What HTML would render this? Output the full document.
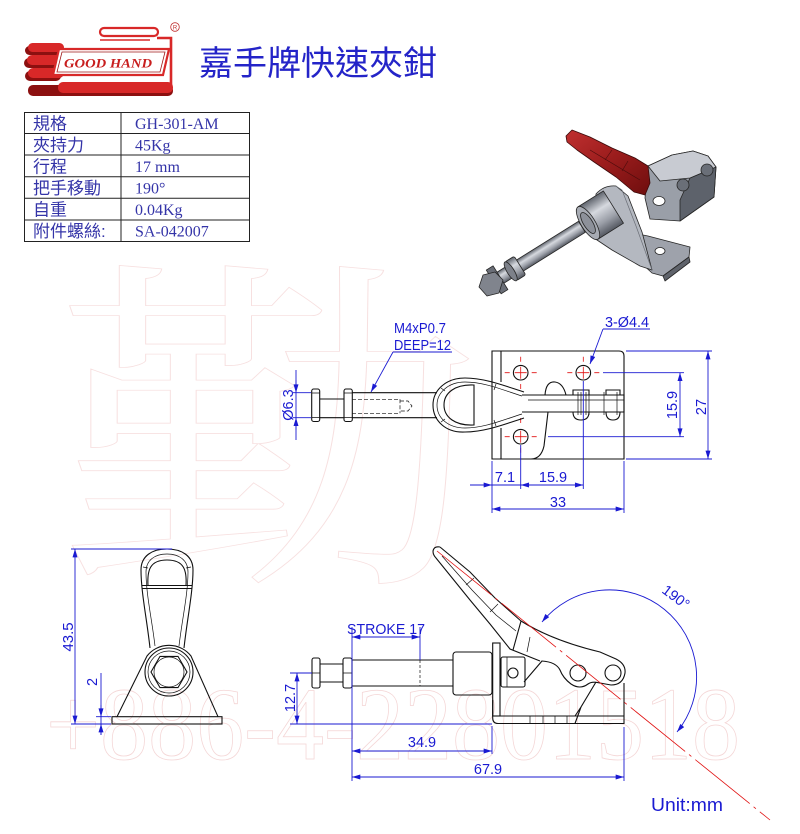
<!DOCTYPE html>
<html><head><meta charset="utf-8">
<style>
html,body{margin:0;padding:0;background:#fff;}
svg{display:block;}
.k{fill:none;stroke:#111;stroke-width:1.1;}
.kt{fill:none;stroke:#111;stroke-width:0.7;}
.b{fill:none;stroke:#1a1ad2;stroke-width:0.9;}
.bt{font-family:"Liberation Sans",sans-serif;font-size:14.5px;fill:#1a1ad2;}
.r{fill:none;stroke:#e01010;stroke-width:0.8;}
.tb{font-family:"Liberation Serif",serif;font-size:16px;fill:#3434a8;}
.tc{font-family:"Liberation Sans","Noto Sans CJK TC",sans-serif;font-size:17px;fill:#3434a8;}
</style></head><body>
<svg width="800" height="834" viewBox="0 0 800 834" xmlns="http://www.w3.org/2000/svg">
<defs>
<marker id="ar" viewBox="0 0 10 6" refX="10" refY="3" markerWidth="9" markerHeight="5" markerUnits="userSpaceOnUse" orient="auto-start-reverse"><path d="M0,0 L10,3 L0,6 z" fill="#1a1ad2"/></marker>
<linearGradient id="cyl" x1="0" y1="0" x2="0" y2="1"><stop offset="0" stop-color="#60656e"/><stop offset="0.35" stop-color="#d6d9df"/><stop offset="0.7" stop-color="#9a9ea7"/><stop offset="1" stop-color="#555962"/></linearGradient>
<linearGradient id="red" x1="0" y1="0" x2="1" y2="1"><stop offset="0" stop-color="#c03030"/><stop offset="0.5" stop-color="#9a1c1c"/><stop offset="1" stop-color="#6e0e0e"/></linearGradient>
</defs>
<rect width="800" height="834" fill="#fff"/>

<!-- watermarks -->
<text transform="translate(55,556) scale(1.27,1.02)" font-family="Noto Serif CJK SC, serif" font-size="340" fill="none" stroke="#f7e0e0" stroke-width="0.8">勤</text>
<text x="46" y="759" font-family="Liberation Serif, serif" font-size="104" textLength="694" lengthAdjust="spacingAndGlyphs" fill="none" stroke="#f4d6d6" stroke-width="0.8">+886-4-22801518</text>

<!-- logo -->
<g>
 <g fill="#8c1010">
  <rect x="25" y="46" width="36" height="9" rx="4.5"/>
  <rect x="24" y="58" width="37" height="10" rx="5"/>
  <rect x="25" y="71" width="36" height="10" rx="5"/>
  <rect x="28" y="85" width="145" height="11" rx="5"/>
 </g>
 <g fill="#d82828">
  <rect x="28" y="43" width="36" height="9" rx="4.5"/>
  <rect x="27" y="55" width="37" height="10" rx="5"/>
  <rect x="28" y="68" width="36" height="10" rx="5"/>
  <rect x="58" y="82" width="115" height="11" rx="5"/>
 </g>
 <rect x="100" y="28" width="58" height="8" rx="4" fill="#fff" stroke="#d82828" stroke-width="2.2"/>
 <path d="M157,38 H171 V86" fill="none" stroke="#d82828" stroke-width="2.6"/>
 <path d="M100,40 H150" fill="none" stroke="#d82828" stroke-width="1.5"/>
 <polygon points="59,49 169,49 163,75 53,75" fill="#fff" stroke="#d82828" stroke-width="2.2"/>
 <polygon points="62,52 165,52 160,72 57,72" fill="none" stroke="#a01818" stroke-width="0.8"/>
 <text x="64" y="67.5" font-family="Liberation Serif, serif" font-style="italic" font-weight="bold" font-size="13" fill="#c81e1e" textLength="88" lengthAdjust="spacingAndGlyphs">GOOD HAND</text>
 <circle cx="175" cy="27" r="4.3" fill="none" stroke="#c03030" stroke-width="0.8"/>
 <text x="175" y="29.3" text-anchor="middle" font-family="Liberation Sans, sans-serif" font-size="6" fill="#c03030">R</text>
</g>
<text x="199" y="75" font-family="Liberation Sans, 'Noto Sans CJK TC', sans-serif" font-size="34" fill="#2424c8">嘉手牌快速夾鉗</text>

<!-- table -->
<g stroke="#222" stroke-width="1" fill="none">
 <rect x="24.5" y="112.5" width="225" height="129"/>
 <line x1="121" y1="112.5" x2="121" y2="241.5"/>
 <line x1="24.5" y1="133.5" x2="249.5" y2="133.5"/>
 <line x1="24.5" y1="155" x2="249.5" y2="155"/>
 <line x1="24.5" y1="176.7" x2="249.5" y2="176.7"/>
 <line x1="24.5" y1="198.3" x2="249.5" y2="198.3"/>
 <line x1="24.5" y1="220" x2="249.5" y2="220"/>
</g>
<text class="tc" x="33" y="129.5">規格</text>
<text class="tc" x="33" y="151">夾持力</text>
<text class="tc" x="33" y="172.5">行程</text>
<text class="tc" x="33" y="194">把手移動</text>
<text class="tc" x="33" y="215.5">自重</text>
<text class="tc" x="33" y="237">附件螺絲:</text>
<text class="tb" x="135" y="129">GH-301-AM</text>
<text class="tb" x="135" y="150.5">45Kg</text>
<text class="tb" x="135" y="172">17 mm</text>
<text class="tb" x="135" y="193.5">190°</text>
<text class="tb" x="135" y="215">0.04Kg</text>
<text class="tb" x="135" y="236.5">SA-042007</text>

<!-- 3D render -->
<g stroke="#262626" stroke-width="0.8" stroke-linejoin="round">
 <!-- housing -->
 <path d="M645,198 L648,166 L672,155 L693,151 L708,156 L716,167 L714,197 L680,221 L650,219 Z" fill="#9a9fa8"/>
 <path d="M690,178 L716,167 L714,197 L680,221 L680,200 Z" fill="#5d626b"/>
 <path d="M648,166 L672,155 L693,151 L708,156 L716,167 L690,178 L660,181 Z" fill="#c8cbd2"/>
 <circle cx="707" cy="170" r="6" fill="#6a6f78"/>
 <circle cx="683" cy="185" r="6" fill="#6a6f78"/>
 <ellipse cx="659" cy="201" rx="6" ry="4.5" fill="#fff"/>
 <!-- flange foot -->
 <path d="M628,232 L648,236 L690,247 L689,257 L663,276 L652,273 L640,262 Z" fill="#9ea2ab"/>
 <path d="M663,276 L689,257 L690,262 L665,281 Z" fill="#5f636b"/>
 <ellipse cx="660" cy="251" rx="5" ry="3.5" fill="#fff"/>
 <!-- flange upright -->
 <path d="M596,194 Q604,185 616,186 L628,196 L642,232 L652,270 L640,266 L612,250 L594,238 Z" fill="#b4b8c0"/>
 <path d="M616,186 L622,190 L636,226 L652,270" fill="none" stroke="#6a6e76" stroke-width="0.7"/>
 <!-- collar -->
 <g transform="translate(588,223) rotate(-32)">
  <rect x="0" y="-19" width="30" height="38" fill="url(#cyl)"/>
  <ellipse cx="0" cy="0" rx="7" ry="19" fill="#a7abb3"/>
  <ellipse cx="0" cy="0" rx="4.5" ry="12" fill="#8d919a"/>
 </g>
 <!-- rod -->
 <g transform="translate(492,283) rotate(-32)">
  <rect x="8" y="-6.5" width="98" height="13" fill="url(#cyl)"/>
  <rect x="22" y="-11" width="11" height="22" rx="2" fill="url(#cyl)"/>
  <ellipse cx="22" cy="0" rx="3.5" ry="11" fill="#7d818a"/>
  <rect x="2" y="-14" width="8" height="28" fill="#6a6e77"/>
 </g>
 <polygon points="479,287 483,275 495,272 503,280 499,293 487,296" fill="#80848d"/>
 <!-- red handle -->
 <path d="M566,136 L572,130 L590,137 L612,148 L635,158 L648,166 L650,183 L645,195 L634,192 L616,177 L594,162 L577,150 L567,142 Z" fill="url(#red)" stroke="#3a0a0a"/>
 <path d="M590,150 L640,180 M605,160 L612,150 M622,171 L628,161" fill="none" stroke="#4a0c0c" stroke-width="0.6"/>
</g>

<!-- TOP VIEW -->
<path class="k" d="M492,351 H619 Q624,351 624,356 V459 H492 Z"/>
<path class="k" d="M501,351 V382 M501,428 V459"/>
<path class="k" d="M548,412 L544,446 Q541,459 531,459"/>
<path class="k" d="M545,395 Q546,381 555,382 Q563,383 566,395"/>
<g fill="#fff" stroke="#111" stroke-width="1.1">
 <circle cx="520.7" cy="372.7" r="7.3"/>
 <circle cx="583.3" cy="372.7" r="7.3"/>
 <circle cx="520.7" cy="436.7" r="7.3"/>
</g>
<g class="r">
 <path d="M514.7,372.7 H526.7 M520.7,366.7 V378.7 M504.7,372.7 H509.7 M531.7,372.7 H536.7 M520.7,356.7 V361.7"/>
 <path d="M577.3,372.7 H589.3 M583.3,366.7 V378.7 M567.3,372.7 H572.3 M594.3,372.7 H599.3 M583.3,356.7 V361.7"/>
 <path d="M514.7,436.7 H526.7 M520.7,430.7 V442.7 M504.7,436.7 H509.7 M531.7,436.7 H536.7 M520.7,447.7 V452.7"/>
 <path d="M520.7,384 V392 M520.7,418 V426" stroke-dasharray="5,3"/>
</g>
<!-- handle loop -->
<path class="k" d="M524,392 C505,386 485,378 465,378 C445,378 433,391 433,405 C433,420 445,433 465,432 C485,432 505,424 524,418"/>
<path class="kt" d="M522,396 C503,390 484,382 465,382 C448,382 437,393 437,405 C437,418 448,428 465,428 C484,428 503,420 522,414"/>
<path class="k" d="M474,385 C455,384 444,393 444,405 C444,417 455,426 474,425 Z"/>
<path class="kt" d="M441,388 L445,391 M441,422 L445,419 M496,384 L494,390 M496,426 L494,420"/>
<!-- arm -->
<path class="k" d="M522,395 H624 V412 H522"/>
<path class="kt" d="M528,400 H624 M578,392 V415 M581,392 V415 M586,392 V415 M589,392 V415 M604,392 V415 M617,392 V415"/>
<path class="k" d="M573,395 V390 H589 V395 M606,395 V390 H620 V395 M573,412 Q573,420 581,420 Q589,420 589,412 M606,412 Q606,420 613,420 Q620,420 620,412"/>
<!-- rod top view -->
<path class="k" d="M352,392.7 H437 M352,417.7 H437"/>
<rect class="k" x="311.7" y="389" width="8" height="32.5" rx="2"/>
<rect class="k" x="344" y="389" width="8.3" height="32.5" rx="2"/>
<path class="kt" d="M311.7,393 H319.7 M311.7,417.5 H319.7 M344,393 H352.3 M344,417.5 H352.3"/>
<path class="k" d="M319.7,399 H344 M319.7,417.7 H344"/>
<path class="kt" stroke-dasharray="4,2" d="M352,399.3 H400 M352,413.3 H400 M400,399.3 V413.3 M400,401 H408 L412,406 L408,411 H400"/>

<!-- top view dims -->
<g class="b">
 <line x1="296" y1="370" x2="296" y2="440"/>
 <line x1="296" y1="380" x2="296" y2="392.7" marker-end="url(#ar)"/>
 <line x1="296" y1="430" x2="296" y2="417.7" marker-end="url(#ar)"/>
 <path d="M293,392.7 H311 M293,417.7 H311"/>
 <path d="M393,352 H452"/>
 <line x1="393" y1="352" x2="371" y2="392" marker-end="url(#ar)"/>
 <path d="M603,329 H650"/>
 <line x1="603" y1="329" x2="590" y2="364" marker-end="url(#ar)"/>
 <path d="M626,351 H712 M626,459 H712 M603,372.7 H684 M548,436.7 H684"/>
 <line x1="708" y1="351" x2="708" y2="459" marker-start="url(#ar)" marker-end="url(#ar)"/>
 <line x1="680" y1="372.7" x2="680" y2="436.7" marker-start="url(#ar)" marker-end="url(#ar)"/>
 <path d="M492,461 V513 M520.7,445 V489 M583.3,381 V489 M624,461 V513"/>
 <line x1="470" y1="485" x2="492" y2="485" marker-end="url(#ar)"/>
 <line x1="492" y1="485" x2="520.7" y2="485"/>
 <line x1="520.7" y1="485" x2="583.3" y2="485" marker-start="url(#ar)" marker-end="url(#ar)"/>
 <line x1="492" y1="509" x2="624" y2="509" marker-start="url(#ar)" marker-end="url(#ar)"/>
</g>
<text class="bt" transform="translate(293,405) rotate(-90)" text-anchor="middle">Ø6.3</text>
<text class="bt" x="394" y="333" textLength="52" lengthAdjust="spacingAndGlyphs">M4xP0.7</text>
<text class="bt" x="394" y="350" textLength="57" lengthAdjust="spacingAndGlyphs">DEEP=12</text>
<text class="bt" x="605" y="327" textLength="44" lengthAdjust="spacingAndGlyphs">3-Ø4.4</text>
<text class="bt" transform="translate(677,405) rotate(-90)" text-anchor="middle">15.9</text>
<text class="bt" transform="translate(706,407) rotate(-90)" text-anchor="middle">27</text>
<text class="bt" x="505" y="482" text-anchor="middle">7.1</text>
<text class="bt" x="553" y="482" text-anchor="middle">15.9</text>
<text class="bt" x="558" y="507" text-anchor="middle">33</text>

<!-- BOTTOM LEFT VIEW -->
<rect class="k" x="112" y="716.7" width="110" height="7.3"/>
<path class="k" d="M117,716.7 L147,656 A28,28 0 0 1 191,656 L218,716.7"/>
<circle class="k" cx="169" cy="672" r="24"/>
<circle class="kt" cx="169" cy="672" r="21"/>
<polygon class="k" points="187,672 178,687.6 160,687.6 151,672 160,656.4 178,656.4"/>
<circle class="kt" cx="169" cy="672" r="15"/>
<path class="k" d="M150,648 C147,620 141,592 141,570 C141,556 152,549 167,549 C182,549 193,556 193,570 C193,592 187,620 184,648"/>
<path class="kt" d="M155,646 C152,620 146,594 146,572 C146,560 155,554 167,554 C179,554 188,560 188,572 C188,594 182,620 179,646"/>
<path class="k" d="M148,586 C147,570 150,560 167,560 C184,560 187,570 186,586"/>
<path class="k" d="M142,585.5 H192 M142,588.5 H192"/>
<path class="kt" d="M143,567 L148,568 M191,567 L186,568"/>
<g class="b">
 <path d="M71,549 H172 M71,724 H111 M96,716.7 H111 M96,724 H111"/>
 <line x1="75" y1="549" x2="75" y2="724" marker-start="url(#ar)" marker-end="url(#ar)"/>
 <line x1="101" y1="673" x2="101" y2="735"/>
 <line x1="101" y1="705" x2="101" y2="716.7" marker-end="url(#ar)"/>
 <line x1="101" y1="735" x2="101" y2="724" marker-end="url(#ar)"/>
</g>
<text class="bt" style="font-size:15px" transform="translate(73,637) rotate(-90)" text-anchor="middle">43.5</text>
<text class="bt" transform="translate(97,682) rotate(-90)" text-anchor="middle">2</text>

<!-- SIDE VIEW -->
<rect class="k" x="312" y="658" width="8" height="30" rx="2"/>
<rect class="k" x="343" y="658" width="9" height="30" rx="2"/>
<path class="kt" d="M312,673 H320 M343,673 H352"/>
<path class="k" d="M320,664 H343 M320,682 H343"/>
<path class="k" d="M352,660 H453 M352,686 H453"/>
<path class="kt" stroke-dasharray="3,2" d="M420,660 V686"/>
<rect class="k" x="453" y="652" width="39" height="43" rx="3"/>
<rect class="k" x="492.7" y="643" width="7.3" height="73"/>
<rect class="k" x="501" y="657" width="24" height="30" rx="2"/>
<path class="kt" d="M507,657 V687"/>
<circle class="k" cx="513" cy="673" r="5"/>
<path class="k" d="M492.7,700 V718 Q492.7,723.5 498,723.5 H624 V683"/>
<path class="k" d="M500,716 H624"/>
<path class="kt" d="M530,716 V723.5 M543,716 V723.5 M555,716 V723.5 M567,716 V723.5"/>
<path class="k" d="M575,723.5 L581,707 L596,682 M575,716 L581,707"/>
<!-- cam/link -->
<path class="k" d="M521,621 C545,636 575,646 600,652 L616,659 Q626,664 625,673 Q623,685 611,685 L600,683 Q592,681 588,684 Q580,690 571,684 Q563,678 560,670 Q556,662 542,661 L524,682"/>
<circle class="k" cx="578" cy="673" r="8"/>
<circle class="k" cx="613" cy="673" r="8"/>
<!-- lever -->
<path class="k" d="M440,547 Q434,546 433,551 Q433,555 436,558 L470,600 L490,624 L510,649 L540,661"/>
<path class="k" d="M440,547 L470,572 L495,598 L521,621 L513,650"/>
<path class="kt" d="M442,556 L472,590 L496,615 L516,631 M466,585 L474,578 M490,612 L498,604 M530,637 L527,652"/>
<!-- red line -->
<path class="r" d="M437,551 L770,820" stroke-dasharray="70,5,3,5"/>
<!-- side dims -->
<g class="b">
 <path d="M352,627 V781 M420,627 V660"/>
 <line x1="352" y1="637" x2="420" y2="637" marker-start="url(#ar)" marker-end="url(#ar)"/>
 <path d="M290,673 H312 M290,724 H492"/>
 <line x1="297" y1="673" x2="297" y2="724" marker-start="url(#ar)" marker-end="url(#ar)"/>
 <path d="M492,726 V754 M624,727 V781"/>
 <line x1="352" y1="751" x2="492" y2="751" marker-start="url(#ar)" marker-end="url(#ar)"/>
 <line x1="352" y1="777" x2="624" y2="777" marker-start="url(#ar)" marker-end="url(#ar)"/>
 <path d="M542,622 A87,87 0 1 1 677,732" marker-start="url(#ar)" marker-end="url(#ar)"/>
</g>
<text class="bt" x="347" y="634" textLength="78" lengthAdjust="spacingAndGlyphs">STROKE 17</text>
<text class="bt" transform="translate(295,698) rotate(-90)" text-anchor="middle">12.7</text>
<text class="bt" x="422" y="747" text-anchor="middle">34.9</text>
<text class="bt" x="488" y="774" text-anchor="middle">67.9</text>
<text class="bt" transform="translate(673,601) rotate(37)" text-anchor="middle">190°</text>
<text class="bt" x="651" y="811" style="font-size:18px" textLength="72" lengthAdjust="spacingAndGlyphs">Unit:mm</text>
</svg>
</body></html>
